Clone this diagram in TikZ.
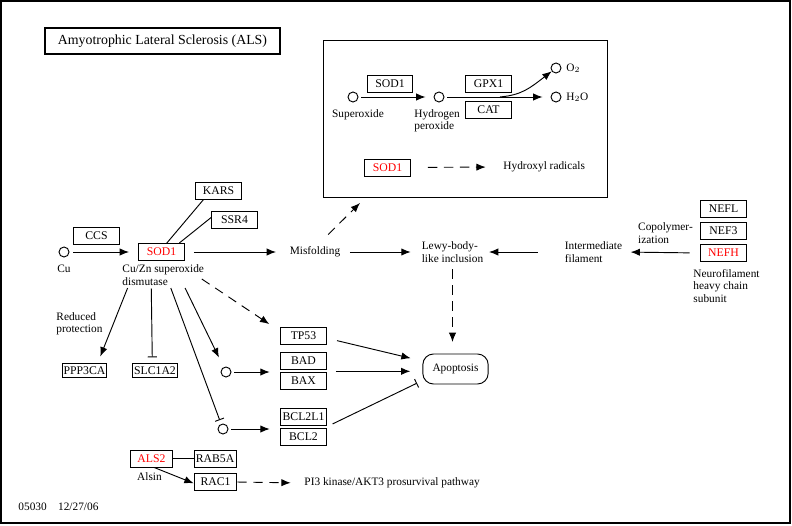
\documentclass[tikz,border=0pt]{standalone}
\usepackage{fontspec}
\setmainfont{Liberation Serif}
\usetikzlibrary{arrows.meta,calc}

\begin{document}
\begin{tikzpicture}[x=0.75pt,y=-0.75pt,line width=0.7pt,
    every node/.style={font=\fontsize{8.5}{9.2}\selectfont},
    gene/.style={draw,minimum width=34pt,minimum height=12.75pt,inner sep=0pt,font=\fontsize{8.8}{9}\selectfont},
    cpd/.style={draw,circle,minimum size=7.5pt,inner sep=0pt},
    lbl/.style={align=left,inner sep=0pt},
    act/.style={-{Latex[length=7pt,width=5.5pt]}},
    dsh/.style={act,dash pattern=on 7pt off 5pt},
    inh/.style={-{Bar[width=7pt]}}]
    % Vía de la ELA (mapa KEGG 05030).
    \useasboundingbox (0,0) rectangle (792,525);
    \draw[line width=1.5pt] (1,1) rectangle (790,523);
    \node[draw,line width=1.5pt,minimum width=176pt,minimum height=19.5pt,font=\fontsize{10.4}{12}\selectfont] (title) at (162.5,41) {Amyotrophic Lateral Sclerosis (ALS)};

    % recuadro de los radicales
    \draw (323,40) rectangle (607,197);
    \node[cpd] (so) at (353,97) {};
    \node (solbl) at (358,115) {Superoxide};
    \node[gene] (sodin) at (390,83.5) {SOD1};
    \node[cpd] (hp) at (439,97) {};
    \node[lbl,anchor=west] (hplbl) at (414,121) {Hydrogen\\peroxide};
    \node[gene] (gpx) at (488.5,83.5) {GPX1};
    \node[gene] (cat) at (488.5,109.5) {CAT};
    \node[cpd] (otwo) at (556,68) {};
    \node[anchor=west,inner sep=0pt] (otwolbl) at (566,68) {O$_2$};
    \node[cpd] (water) at (556,97) {};
    \node[anchor=west,inner sep=0pt] (waterlbl) at (566,97) {H$_2$O};
    \node[gene,text=red] (sodred) at (387.5,167.5) {SOD1};
    \node[anchor=west,inner sep=0pt] (hydrox) at (503,167) {Hydroxyl radicals};
    \coordinate (rosin) at (360,203);

    \draw[act,shorten <=2pt,shorten >=6pt] (so) -- (hp);
    \draw[act,shorten <=2pt,shorten >=6pt] (hp) -- (water);
    \draw[act] ($(hp)!0.52!(water)$) .. controls (522,95) and (530,88) .. ([xshift=-13.5pt,yshift=-6.5pt]otwo);
    \draw[dsh,shorten <=13pt,shorten >=13pt] (sodred) -- (hydrox.west);

    % cobre y SOD1
    \node[cpd] (cu) at (64,252) {};
    \node (culbl) at (64,269) {Cu};
    \node[gene] (ccs) at (96.5,235.5) {CCS};
    \node[gene,text=red] (sod) at (161.5,252) {SOD1};
    \node[lbl,anchor=west] (sodlbl) at (122,275) {Cu/Zn superoxide\\dismutase};
    \node[gene] (kars) at (218.5,191) {KARS};
    \node[gene] (ssr) at (234.5,220) {SSR4};
    \draw[act,shorten <=3pt,shorten >=7pt] (cu) -- (sod.west);
    \draw ([xshift=4pt]sod.north) -- ([xshift=-11.5pt]kars.south);
    \draw ([xshift=-4pt]sod.north east) -- ([yshift=2pt]ssr.west);

    \node[inner sep=0pt] (misfold) at (315,252) {Misfolding};
    \node[lbl] (lewy) at (452.5,252) {Lewy-body-\\like inclusion};
    \node[lbl] (interm) at (593.5,252) {Intermediate\\filament};
    \node[lbl] (copoly) at (665.5,233) {Copolymer-\\ization};
    \node[gene] (nefl) at (723.5,208.5) {NEFL};
    \node[gene] (nefthree) at (723.5,230.5) {NEF3};
    \node[gene,text=red] (nefh) at (723.5,253) {NEFH};
    \node[lbl,anchor=west] (nflbl) at (693,286) {Neurofilament\\heavy chain\\subunit};

    \draw[act,shorten <=7pt,shorten >=10pt] (sod.east) -- (misfold.west);
    \draw[act,shorten <=7pt,shorten >=8pt] (misfold.east) -- (lewy.west);
    \draw[act,shorten <=20pt,shorten >=4pt] (interm.west) -- (lewy.east);
    \draw[act,shorten <=8pt,shorten >=6pt] (nefh.west) -- (interm.east);
    \draw[dsh,shorten <=4pt] ([xshift=7pt,yshift=6pt]misfold.north) -- (rosin);
    \draw[dsh,shorten <=5pt,shorten >=9pt] (lewy.south) -- (lewy.south |- 0,354);

    % ramas hacia abajo
    \node[draw,inner sep=1pt,minimum height=11pt,font=\fontsize{8.8}{9}\selectfont] (ppp) at (84.5,370.5) {PPP3CA};
    \node[draw,inner sep=1pt,minimum height=11pt,font=\fontsize{8.8}{9}\selectfont] (slc) at (155,370.5) {SLC1A2};
    \node[lbl,anchor=west] (redprot) at (56,324) {Reduced\\protection};
    \node[cpd] (ctwo) at (226,372) {};
    \node[cpd] (cthree) at (223,429) {};
    \node[gene] (tp) at (303.5,335.5) {TP53};
    \node[gene] (bad) at (303.5,361) {BAD};
    \node[gene] (bax) at (303.5,380.5) {BAX};
    \node[gene] (bcll) at (303.5,416.5) {BCL2L1};
    \node[gene] (bcl) at (303.5,437) {BCL2};
    \node[draw,rounded corners=8pt,minimum width=49pt,minimum height=22.5pt,inner sep=0pt] (apop) at (455.5,369) {Apoptosis};

    \draw[act,shorten <=2pt,shorten >=5pt] ([xshift=-26pt]sodlbl.south) -- ([xshift=10pt]ppp.north);
    \draw[inh,shorten <=2pt,shorten >=4pt] ([xshift=-9pt]sodlbl.south) -- ([xshift=-2pt]slc.north);
    \draw[inh,shorten <=2pt,shorten >=3pt] ([xshift=5pt]sodlbl.south) -- (cthree);
    \draw[act,shorten <=2pt,shorten >=8pt] ([xshift=15.5pt]sodlbl.south) -- (ctwo);
    \draw[dsh,shorten >=10pt] ([shift={(-2pt,-3pt)}]sodlbl.east) -- ([yshift=3pt]tp.west);
    \draw[act,shorten <=2pt,shorten >=8pt] (ctwo) -- (ctwo -| bax.west);
    \draw[act,shorten <=2pt,shorten >=8pt] (cthree) -- (cthree -| bcl.west);
    \draw[act,shorten <=8pt,shorten >=9pt] ([yshift=-2pt]tp.east) -- ([yshift=6pt]apop.west);
    \draw[act,shorten <=7pt,shorten >=9pt] ([yshift=-1pt]bad.south east) -- ([yshift=-1pt]bad.south east -| apop.west);
    \draw[inh,shorten <=5pt] ([yshift=-1pt]bcll.south east) -- ([xshift=-4pt,yshift=1pt]apop.south west);

    % Alsina
    \node[gene,text=red,minimum width=32pt] (als) at (151.5,458.5) {ALS2};
    \node (alsin) at (149.5,477) {Alsin};
    \node[gene,minimum width=31.5pt] (rab) at (215,458.5) {RAB5A};
    \node[gene,minimum width=32pt] (rac) at (215.5,482) {RAC1};
    \node[anchor=west,inner sep=0pt] (pik) at (304,483) {PI3 kinase/AKT3 prosurvival pathway};
    \draw (als.east) -- (rab.west);
    \draw[act] ([xshift=2pt]als.south) -- ([yshift=-1pt]rac.west);
    \draw[dsh,shorten >=10pt] (rac.east) -- (pik.west);

    \node[anchor=west,inner sep=0pt] (stamp) at (18,507) {05030\quad 12/27/06};
\end{tikzpicture}
\end{document}
